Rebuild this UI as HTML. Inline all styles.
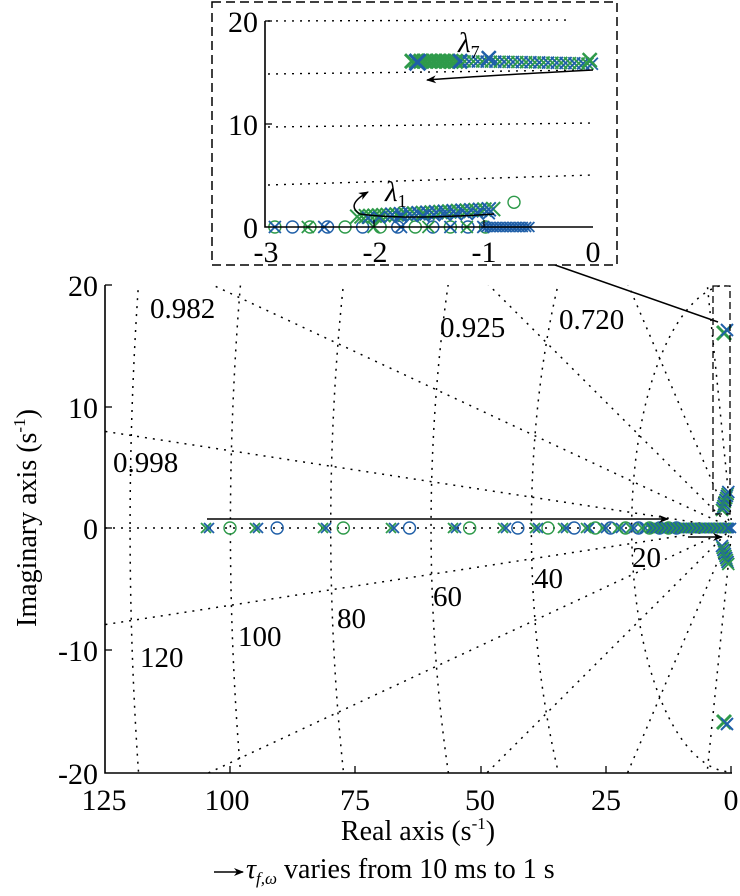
<!DOCTYPE html>
<html><head><meta charset="utf-8"><style>
html,body{margin:0;padding:0;background:#fff;overflow:hidden;width:740px;height:896px;}
svg{display:block;font-family:"Liberation Serif","DejaVu Serif","Times New Roman",serif;}
svg text{font-family:"Liberation Serif","DejaVu Serif","Times New Roman",serif !important;}
</style></head><body>
<svg id="s" width="740" height="896" viewBox="0 0 740 896" xmlns="http://www.w3.org/2000/svg" style="font-family:'Liberation Serif','DejaVu Serif',serif">
<defs>
<clipPath id="cm"><rect x="105" y="285" width="627" height="488"/></clipPath>
<marker id="ah" markerWidth="10" markerHeight="8" refX="9" refY="4" orient="auto" markerUnits="userSpaceOnUse"><path d="M0,0 L10,4 L0,8 L3,4z" fill="#000"/></marker>
</defs>
<g id="grid" clip-path="url(#cm)" stroke="#000" stroke-width="1.5" stroke-dasharray="2,6" fill="none"></g>
<g id="mk"></g>
<path d="M105,285 V773 H732" stroke="#000" stroke-width="1.6" fill="none"/>
<g stroke="#000" stroke-width="1.3">
<line x1="105" y1="285" x2="112" y2="285"/><line x1="105" y1="407" x2="112" y2="407"/><line x1="105" y1="528" x2="112" y2="528"/><line x1="105" y1="650" x2="112" y2="650"/>
<line x1="230" y1="773" x2="230" y2="766"/><line x1="355" y1="773" x2="355" y2="766"/><line x1="481" y1="773" x2="481" y2="766"/><line x1="606" y1="773" x2="606" y2="766"/><line x1="731" y1="773" x2="731" y2="766"/>
</g>
<g font-size="30" fill="#000" text-anchor="end">
<text x="98" y="296">20</text><text x="98" y="418">10</text><text x="98" y="539">0</text><text x="98" y="661">-10</text><text x="98" y="784">-20</text>
</g>
<g font-size="30" fill="#000" text-anchor="middle">
<text x="104" y="810">125</text><text x="227" y="810">100</text><text x="355" y="810">75</text><text x="480" y="810">50</text><text x="606" y="810">25</text><text x="731" y="810">0</text>
</g>
<text x="418" y="840" font-size="28" text-anchor="middle">Real axis (s<tspan font-size="17" dy="-11">-1</tspan><tspan dy="11">)</tspan></text>
<text transform="translate(36,518) rotate(-90)" font-size="28" text-anchor="middle">Imaginary axis (s<tspan font-size="17" dy="-11">-1</tspan><tspan dy="11">)</tspan></text>
<line x1="214" y1="872" x2="243" y2="872" stroke="#000" stroke-width="1.5" marker-end="url(#ah)"/>
<text x="246" y="878" font-size="28"><tspan font-style="italic">τ</tspan><tspan font-size="17" dy="6" font-style="italic">f,ω</tspan><tspan dy="-6"> varies from 10 ms to 1 s</tspan></text>
<g font-size="29">
<text x="150" y="318">0.982</text><text x="440" y="337">0.925</text><text x="559" y="329">0.720</text><text x="113" y="472">0.998</text>
<text x="140" y="667">120</text><text x="238" y="646">100</text><text x="337" y="628">80</text><text x="433" y="606">60</text><text x="534" y="588">40</text><text x="632" y="567">20</text>
</g>
<line x1="207" y1="519" x2="668" y2="519" stroke="#000" stroke-width="1.5" marker-end="url(#ah)"/>
<line x1="688" y1="537" x2="722" y2="537" stroke="#000" stroke-width="1.5" marker-end="url(#ah)"/>
<rect x="713" y="286" width="17" height="228" fill="none" stroke="#000" stroke-width="1.3" stroke-dasharray="7,4"/>
<line x1="555" y1="265" x2="718" y2="322" stroke="#000" stroke-width="1.5"/>
<rect x="212" y="2" width="405" height="263" fill="#fff" stroke="#000" stroke-width="1.5" stroke-dasharray="9,5"/>
<g stroke="#000" stroke-width="1.4" stroke-dasharray="2,6" fill="none">
<line x1="268" y1="21" x2="570" y2="20"/><line x1="268" y1="74" x2="593" y2="70"/><line x1="268" y1="127" x2="593" y2="123"/><line x1="268" y1="185" x2="593" y2="175"/>
</g>
<g id="mk2"></g>
<path d="M265,21 V227 H593" stroke="#000" stroke-width="1.6" fill="none"/>
<g stroke="#000" stroke-width="1.3"><line x1="265" y1="21" x2="272" y2="21"/><line x1="265" y1="124" x2="272" y2="124"/><line x1="374" y1="227" x2="374" y2="220"/><line x1="484" y1="227" x2="484" y2="220"/></g>
<g font-size="30" text-anchor="end"><text x="258" y="32">20</text><text x="258" y="135">10</text><text x="258" y="238">0</text></g>
<g font-size="30" text-anchor="middle"><text x="266" y="262">-3</text><text x="375" y="262">-2</text><text x="484" y="262">-1</text><text x="593" y="262">0</text></g>
<path d="M593,70 Q480,76 427,80" stroke="#000" stroke-width="1.5" fill="none" marker-end="url(#ah)"/>
<path d="M494,214 Q400,220 360,214 Q345,205 368,192" stroke="#000" stroke-width="1.5" fill="none" marker-end="url(#ah)"/>
<text x="458" y="52" font-size="29" font-style="italic">λ<tspan font-size="18" dy="6" font-style="normal">7</tspan></text>
<text x="385" y="201" font-size="29" font-style="italic">λ<tspan font-size="18" dy="6" font-style="normal">1</tspan></text>
</svg>
<script>
var NS="http://www.w3.org/2000/svg";
function el(p,t,a){var e=document.createElementNS(NS,t);for(var k in a)e.setAttribute(k,a[k]);p.appendChild(e);return e;}
var g=document.getElementById('grid');
var X=function(r){return 732+5.016*r},Y=function(i){return 528-12.2*i};
[20,40,60,80,100,120].forEach(function(r){el(g,'ellipse',{cx:732,cy:528,rx:r*5.016,ry:r*12.2});});
[0.998,0.982,0.925,0.72,0.24].forEach(function(z){var t=Math.tan(Math.acos(z));var re=-140;
el(g,'line',{x1:732,y1:528,x2:X(re),y2:Y(-re*t)});el(g,'line',{x1:732,y1:528,x2:X(re),y2:Y(re*t)});});
el(g,'line',{x1:105,y1:528,x2:732,y2:528});
var B="#1f5fa8",G="#2e9a4a";
function cross(p,x,y,s,c,w){el(p,'path',{d:'M'+(x-s)+','+(y-s)+'L'+(x+s)+','+(y+s)+'M'+(x-s)+','+(y+s)+'L'+(x+s)+','+(y-s),stroke:c,'stroke-width':w||1.8,fill:'none'});}
function circ(p,x,y,r,c){el(p,'circle',{cx:x,cy:y,r:r,stroke:c,'stroke-width':1.4,fill:'none'});}
var m=document.getElementById('mk');
var xs=[208,257,325,393,455,505,537,565,588,605,620,633,644,654,663,671,678,684,690,695,700,704,708,712,715,718,721,724,726,728,730];
xs.forEach(function(x,i){cross(m,x-2,528,5,G);cross(m,x+1,528,5,B);if(i<16)circ(m,x+22*Math.max(0.25,1-i/12),528,6,i%2?B:G);});
var j=0;
for(var x=650;x<730;x+=2){cross(m,x,528,5,(j++)%2?B:G);}
for(var k=0;k<10;k++){cross(m,722+k*0.7,510-k*2,6,k%2?B:G);cross(m,722+k*0.7,546+k*2,6,k%2?G:B);}
cross(m,724,333,7,G,3);cross(m,727,330,6,B,2);cross(m,724,722,7,G,3);cross(m,727,724,6,B,2);
var m2=document.getElementById('mk2');
var IX=function(r){return 593+109.7*r},IY=function(i){return 227-10.3*i};
var q=0;
for(var r=-2.9;r<-0.85;r+=0.16){circ(m2,IX(r),227,6,(q++)%2?B:G);}
[-2.9,-2.6,-2.45,-2.0,-1.75,-1.5,-1.3,-1.15,-1.0].forEach(function(r,i){cross(m2,IX(r),227,6,i%2?G:B);});
for(var r=-1.0;r<-0.55;r+=0.03){cross(m2,IX(r),227,5,B);}
q=0;
for(var r=-2.15;r<-0.9;r+=0.04){cross(m2,IX(r),IY(1.0+0.6*(r+2.15)),7,r<-1.9?G:((q++)%2?B:G),2);}
for(var r=-2.05;r<-0.9;r+=0.1){cross(m2,IX(r),IY(0.9+0.4*(r+2.05)),6,B);}
circ(m2,IX(-0.72),IY(2.4),6,G);
q=0;
for(var r=-1.65;r<0;r+=0.04){cross(m2,IX(r),IY(16.1-0.1*(r+1.6)*(r+1.6)),r<-1.2?7:6,r<-1.25?G:((q++)%2?B:G),r<-1.2?3:1.8);}
cross(m2,IX(-1.6),IY(16),8,B,3);cross(m2,IX(-0.95),IY(16.4),7,B,2.5);cross(m2,IX(-0.03),IY(16.2),7,G,2.5);
</script>
</body></html>
